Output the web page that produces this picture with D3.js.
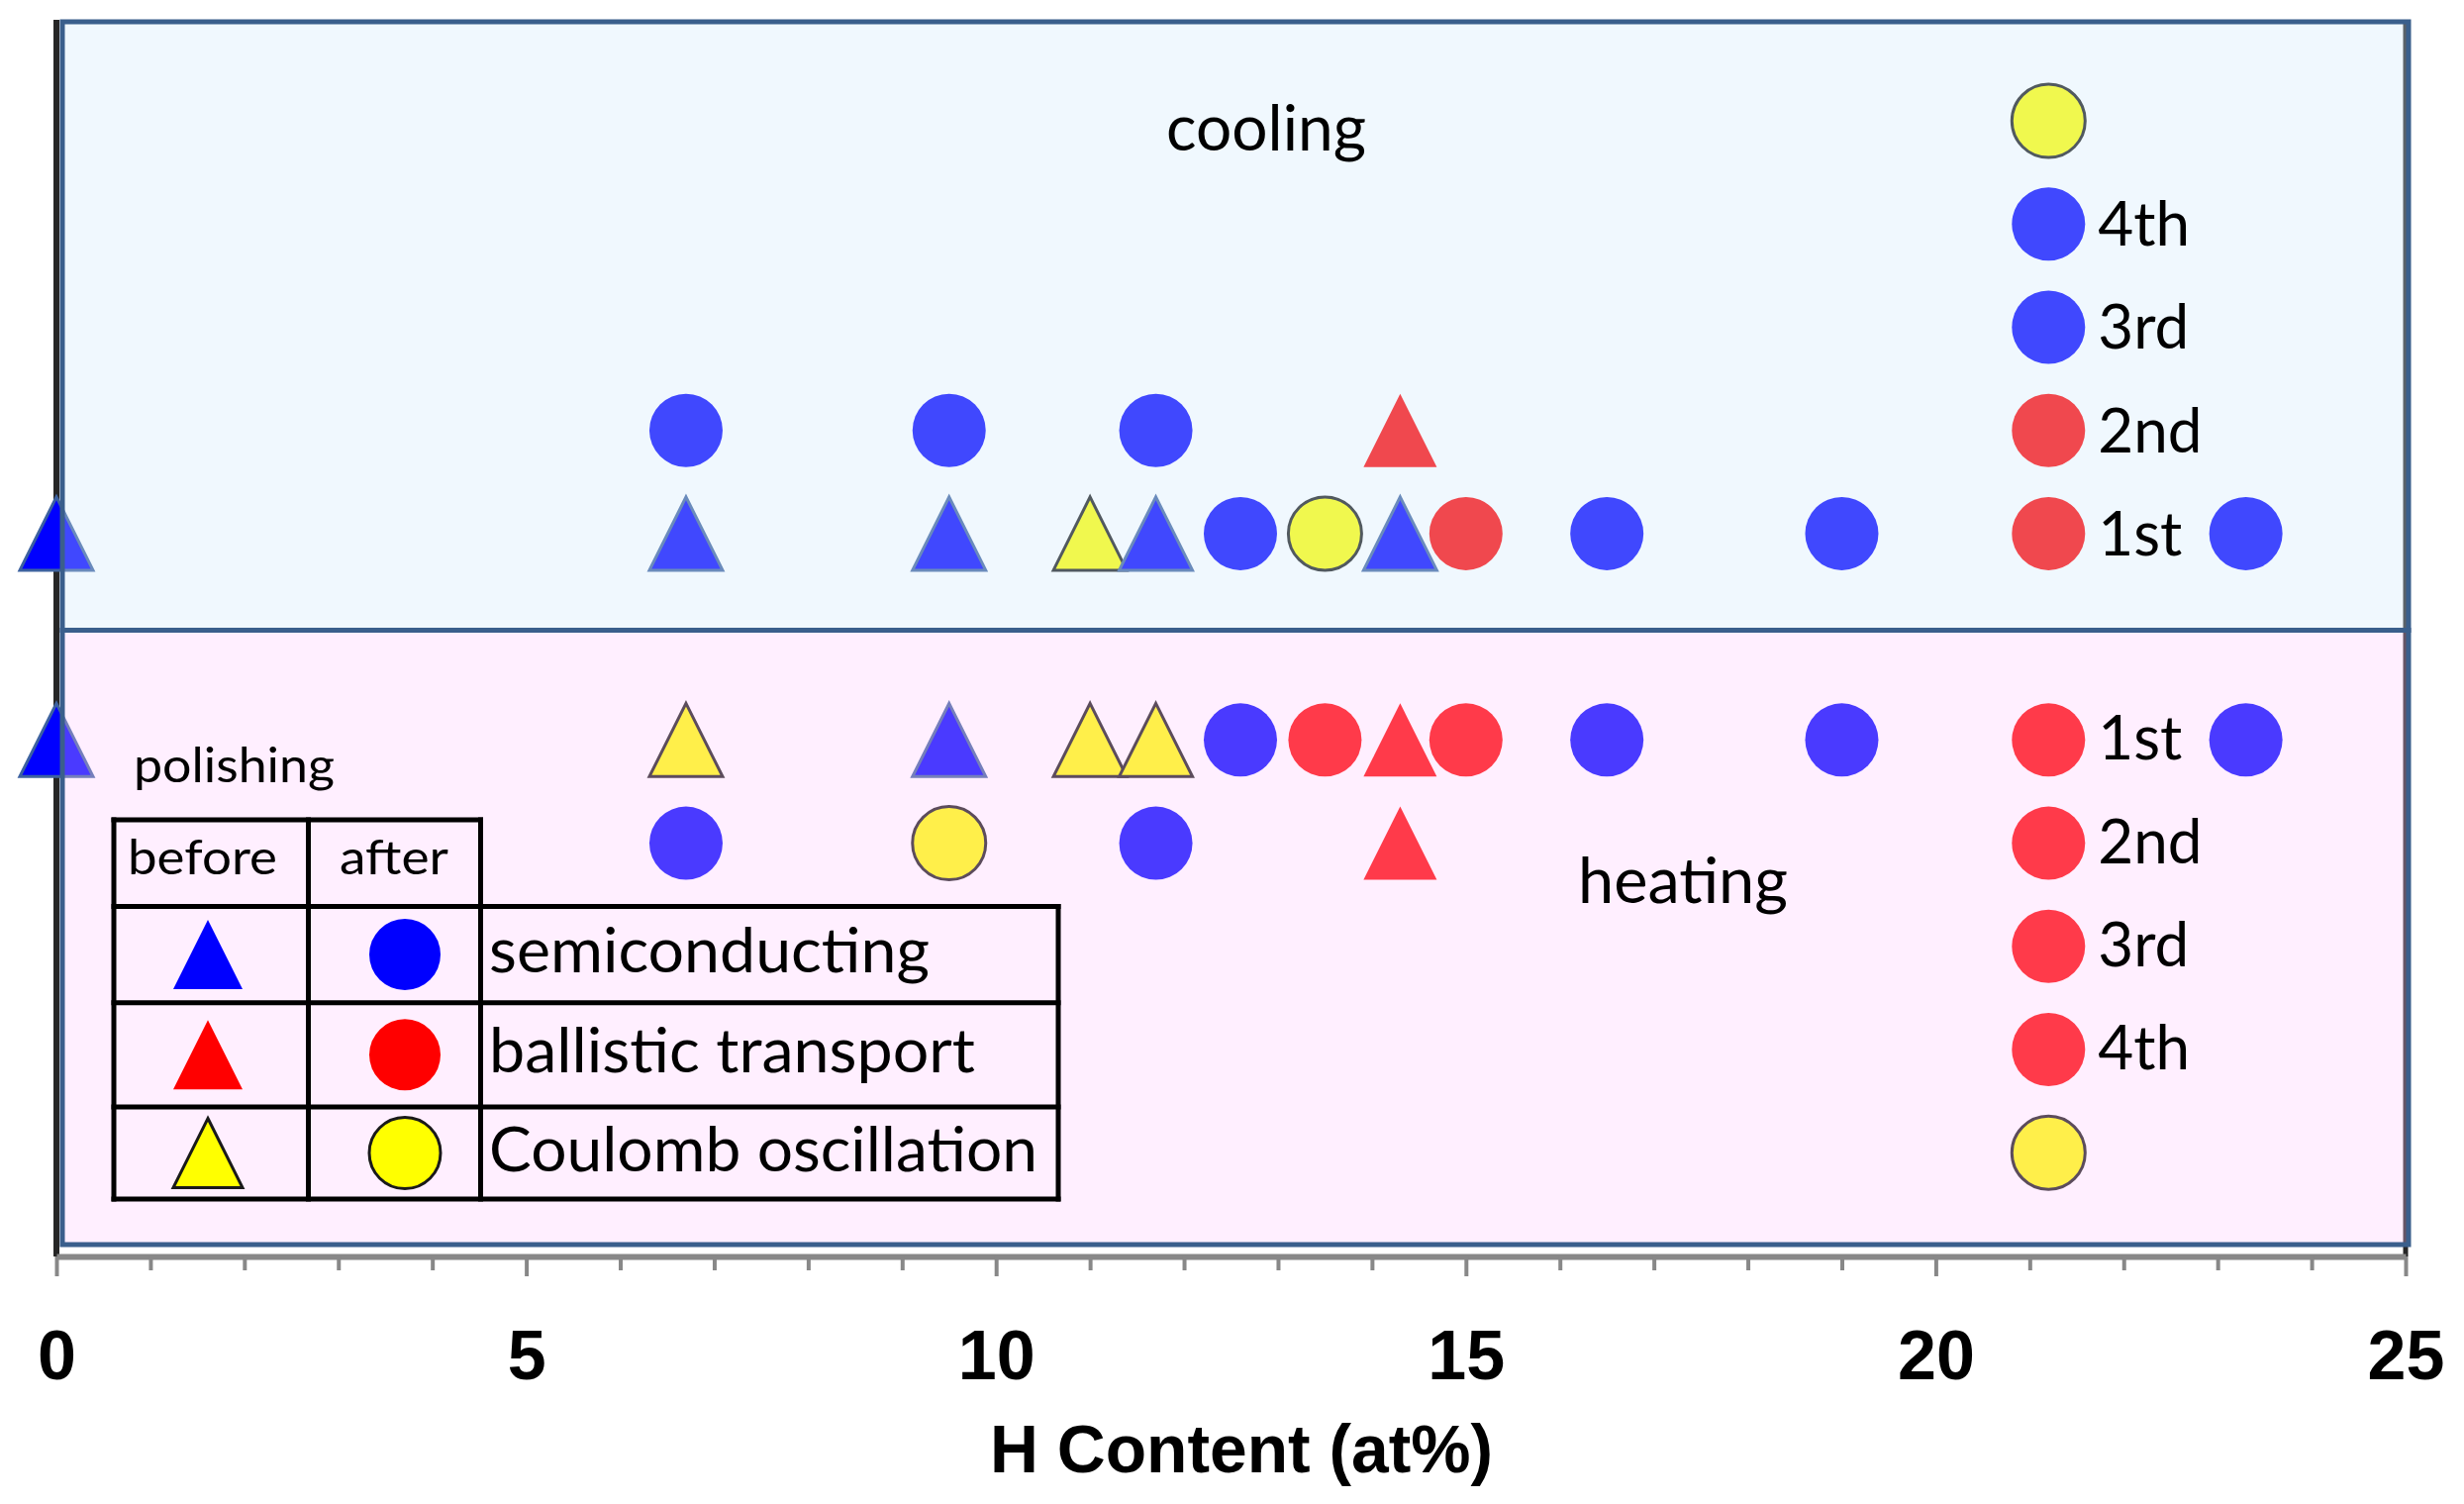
<!DOCTYPE html>
<html>
<head>
<meta charset="utf-8">
<script src="https://cdn.jsdelivr.net/npm/d3@7"></script>
<style>
  html, body { margin: 0; padding: 0; background: #ffffff; }
  svg { display: block; }
</style>
</head>
<body>
<svg id="chart" width="2489" height="1519"></svg>
<script>
// ------------------------------------------------------------------
// DATA
// ------------------------------------------------------------------
const xTicks = [0, 5, 10, 15, 20, 25];
const xTitle = "H Content (at%)";
const panelTitles = ["cooling", "heating"];
const noteText = "polishing";
const cycleLabels = ["1st", "2nd", "3rd", "4th"];
const cycleH = 21.2;                     // H content of the repeatedly cycled sample
const legendHeader = ["before", "after"];
const legendTypes = ["semiconducting", "ballistic transport", "Coulomb oscillation"];
const typeKeys = ["semi", "ball", "coul"];

// [H content (at%), row (1 = row next to the split), state, transport type]
const coolingPoints = [
  [0.0,  1, "before", "semi"],
  [6.7,  1, "before", "semi"],
  [9.5,  1, "before", "semi"],
  [11.0, 1, "before", "coul"],
  [11.7, 1, "before", "semi"],
  [12.6, 1, "after",  "semi"],
  [13.5, 1, "after",  "coul"],
  [14.3, 1, "before", "semi"],
  [15.0, 1, "after",  "ball"],
  [16.5, 1, "after",  "semi"],
  [19.0, 1, "after",  "semi"],
  [21.2, 1, "after",  "ball"],
  [23.3, 1, "after",  "semi"],
  [6.7,  2, "after",  "semi"],
  [9.5,  2, "after",  "semi"],
  [11.7, 2, "after",  "semi"],
  [14.3, 2, "before", "ball"],
  [21.2, 2, "after",  "ball"],
  [21.2, 3, "after",  "semi"],
  [21.2, 4, "after",  "semi"],
  [21.2, 5, "after",  "coul"]
];

const heatingPoints = [
  [0.0,  1, "before", "semi"],
  [6.7,  1, "before", "coul"],
  [9.5,  1, "before", "semi"],
  [11.0, 1, "before", "coul"],
  [11.7, 1, "before", "coul"],
  [12.6, 1, "after",  "semi"],
  [13.5, 1, "after",  "ball"],
  [14.3, 1, "before", "ball"],
  [15.0, 1, "after",  "ball"],
  [16.5, 1, "after",  "semi"],
  [19.0, 1, "after",  "semi"],
  [21.2, 1, "after",  "ball"],
  [23.3, 1, "after",  "semi"],
  [6.7,  2, "after",  "semi"],
  [9.5,  2, "after",  "coul"],
  [11.7, 2, "after",  "semi"],
  [14.3, 2, "before", "ball"],
  [21.2, 2, "after",  "ball"],
  [21.2, 3, "after",  "ball"],
  [21.2, 4, "after",  "ball"],
  [21.2, 5, "after",  "coul"]
];

// ------------------------------------------------------------------
// STYLE / LAYOUT
// ------------------------------------------------------------------
const typeFill   = { semi: "#0000ff", ball: "#ff0000", coul: "#ffff00" };
const triStroke  = { semi: "#3d62a0", ball: "none",    coul: "#1a1a1a" };
const circStroke = { semi: "none",    ball: "none",    coul: "#1a1a1a" };
const labelFont = "Lato, Carlito, 'Open Sans', sans-serif";
const axisFont  = "'Liberation Sans', Arial, sans-serif";

const plotTop = 22, plotBottom = 1257, splitPx = 636.5;
const axisY = 1269;
const R = 37;

const svg = d3.select("#chart");

const x = d3.scaleLinear().domain([0, 25]).range([57, 2430]);
const y = d3.scaleLinear().domain([-5.89, 5.96]).range([plotBottom, plotTop]);

// ------------------------------------------------------------------
// AXES
// ------------------------------------------------------------------
// vertical frame lines (under the markers)
svg.append("line")
  .attr("x1", x(0)).attr("x2", x(0)).attr("y1", plotTop - 2).attr("y2", axisY)
  .attr("stroke", "#262626").attr("stroke-width", 6);
svg.append("line")
  .attr("x1", x(25)).attr("x2", x(25)).attr("y1", plotTop - 2).attr("y2", axisY)
  .attr("stroke", "#262626").attr("stroke-width", 5);

const xAxis = d3.axisBottom(x)
  .tickValues(d3.range(0, 26, 1))
  .tickSize(14)
  .tickSizeOuter(0)
  .tickFormat(d => xTicks.includes(d) ? d3.format("d")(d) : "");

const gx = svg.append("g")
  .attr("transform", `translate(0,${axisY})`)
  .call(xAxis);
gx.select(".domain").attr("stroke", "#888888").attr("stroke-width", 6);
gx.selectAll(".tick line")
  .attr("stroke", "#888888").attr("stroke-width", 4)
  .attr("y2", d => xTicks.includes(d) ? 20 : 14);
gx.selectAll(".tick text")
  .attr("y", 124).attr("dy", 0)
  .attr("fill", "#000")
  .style("font-family", axisFont)
  .style("font-weight", "bold")
  .style("font-size", "70px");

svg.append("text")
  .attr("x", 1000).attr("y", 1487)
  .attr("textLength", 508).attr("lengthAdjust", "spacingAndGlyphs")
  .style("font-family", axisFont).style("font-weight", "bold").style("font-size", "68px")
  .attr("fill", "#000")
  .text(xTitle);

// ------------------------------------------------------------------
// MARKERS
// ------------------------------------------------------------------
function triPath(cx, cy, r) {
  return `M${cx},${cy - r}L${cx + r},${cy + r}L${cx - r},${cy + r}Z`;
}
function drawMarkers(g, pts, sign) {
  pts.forEach(p => {
    const [h, row, state, type] = p;
    const cx = x(h), cy = y(sign * row);
    if (state === "before") {
      g.append("path")
        .attr("d", triPath(cx, cy, R))
        .attr("fill", typeFill[type])
        .attr("stroke", triStroke[type])
        .attr("stroke-width", 3)
        .attr("stroke-linejoin", "miter");
    } else {
      g.append("circle")
        .attr("cx", cx).attr("cy", cy).attr("r", R)
        .attr("fill", typeFill[type])
        .attr("stroke", circStroke[type])
        .attr("stroke-width", 3);
    }
  });
}
const gMarks = svg.append("g");
drawMarkers(gMarks, coolingPoints, 1);
drawMarkers(gMarks, heatingPoints, -1);

// ------------------------------------------------------------------
// PANELS (semi-transparent overlay on top of the markers)
// ------------------------------------------------------------------
const panelLeft = x(0) + 6, panelRight = x(25) + 3;
svg.append("rect")
  .attr("x", panelLeft).attr("y", plotTop)
  .attr("width", panelRight - panelLeft).attr("height", splitPx - plotTop)
  .attr("fill", "rgb(206,232,252)").attr("fill-opacity", 0.31)
  .attr("stroke", "#3a5f8c").attr("stroke-width", 5);
svg.append("rect")
  .attr("x", panelLeft).attr("y", splitPx)
  .attr("width", panelRight - panelLeft).attr("height", plotBottom - splitPx)
  .attr("fill", "rgb(255,200,255)").attr("fill-opacity", 0.29)
  .attr("stroke", "#3a5f8c").attr("stroke-width", 5);

// ------------------------------------------------------------------
// TEXT LABELS
// ------------------------------------------------------------------
function label(txt, tx, ty, size, len) {
  const t = svg.append("text")
    .attr("x", tx).attr("y", ty)
    .style("font-family", labelFont)
    .style("font-size", size + "px")
    .attr("fill", "#000")
    .text(txt);
  if (len) t.attr("textLength", len).attr("lengthAdjust", "spacingAndGlyphs");
  return t;
}
label(panelTitles[0], 1178, 152, 63, 202);
label(panelTitles[1], 1594, 912, 63, 212);
label(noteText, 135, 790, 48, 203);

cycleLabels.forEach((c, i) => {
  label(c, x(cycleH) + 50, y(i + 1) + 22, 62);
  label(c, x(cycleH) + 50, y(-(i + 1)) + 20, 62);
});

// ------------------------------------------------------------------
// LEGEND TABLE
// ------------------------------------------------------------------
const tblCols = [115, 311.5, 485.5, 1069];
const tblRows = [828, 915.5, 1012.7, 1118, 1211];
const gL = svg.append("g");
const ls = { stroke: "#000", w: 5 };
function hline(x1, x2, yy) {
  gL.append("line").attr("x1", x1).attr("x2", x2).attr("y1", yy).attr("y2", yy)
    .attr("stroke", ls.stroke).attr("stroke-width", ls.w).attr("stroke-linecap", "square");
}
function vline(xx, y1, y2) {
  gL.append("line").attr("x1", xx).attr("x2", xx).attr("y1", y1).attr("y2", y2)
    .attr("stroke", ls.stroke).attr("stroke-width", ls.w).attr("stroke-linecap", "square");
}
hline(tblCols[0], tblCols[2], tblRows[0]);
tblRows.slice(1).forEach(r => hline(tblCols[0], tblCols[3], r));
vline(tblCols[0], tblRows[0], tblRows[4]);
vline(tblCols[1], tblRows[0], tblRows[4]);
vline(tblCols[2], tblRows[0], tblRows[4]);
vline(tblCols[3], tblRows[1], tblRows[4]);

label(legendHeader[0], 129, 883, 48, 151);
label(legendHeader[1], 343, 883, 48, 110);

const legendLens = [445, 491, 554];
typeKeys.forEach((k, i) => {
  const cy = (tblRows[i + 1] + tblRows[i + 2]) / 2;
  gL.append("path")
    .attr("d", triPath(210, cy, 35))
    .attr("fill", typeFill[k])
    .attr("stroke", k === "coul" ? "#1a1a1a" : "none")
    .attr("stroke-width", 3);
  gL.append("circle")
    .attr("cx", 409).attr("cy", cy).attr("r", 36)
    .attr("fill", typeFill[k])
    .attr("stroke", k === "coul" ? "#1a1a1a" : "none")
    .attr("stroke-width", 3);
  label(legendTypes[i], 494, cy + 18, 62, legendLens[i]);
});
</script>
</body>
</html>
